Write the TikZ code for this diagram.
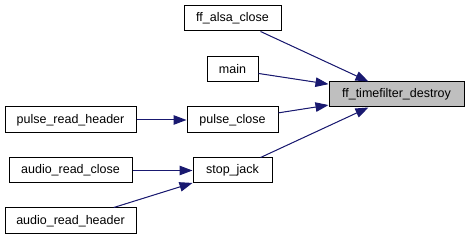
\documentclass[tikz,border=0pt]{standalone}
\usepackage{fontspec}
\setmainfont{Liberation Sans}
\usetikzlibrary{arrows.meta}
\definecolor{edgeblue}{HTML}{191970}
\definecolor{focusgray}{HTML}{BFBFBF}
\begin{document}
\begin{tikzpicture}[x=1pt,y=-1pt,
  fn/.style={draw=black, line width=1pt, fill=white, inner sep=0pt,
    minimum height=25pt, font=\fontsize{12.5}{14}\selectfont},
  focus/.style={fn, fill=focusgray},
  call/.style={draw=edgeblue, line width=1pt,
    -{Triangle[length=13pt,width=9.5pt]}, fill=edgeblue}]
  \useasboundingbox[fill=white] (0,0) rectangle (469,240);
  % caller boxes
  \node[fn, minimum width=97pt] (alsa) at (232.5,18.5) {ff\_alsa\_close};
  \node[fn, minimum width=51pt] (main) at (232.5,69.5) {main};
  \node[fn, minimum width=91pt, minimum height=26pt] (pclose) at (232.5,120) {pulse\_close};
  \node[fn, minimum width=131pt, minimum height=26pt] (prh) at (70.5,120) {pulse\_read\_header};
  \node[fn, minimum width=123pt] (arc) at (70.5,170.5) {audio\_read\_close};
  \node[fn, minimum width=79pt] (sj) at (232.5,170.5) {stop\_jack};
  \node[fn, minimum width=131pt, minimum height=26pt] (arh) at (70.5,221) {audio\_read\_header};
  % function the graph is built for
  \node[focus, minimum width=135pt] (tgt) at (396.5,94.5) {ff\_timefilter\_destroy};
  % call edges
  \draw[call] (alsa) -- (tgt);
  \draw[call] (main) -- (tgt);
  \draw[call] (pclose) -- (tgt);
  \draw[call] (sj) -- (tgt);
  \draw[call] (prh) -- (pclose);
  \draw[call] (arc) -- (sj);
  \draw[call] (arh) -- (sj);
\end{tikzpicture}
\end{document}
